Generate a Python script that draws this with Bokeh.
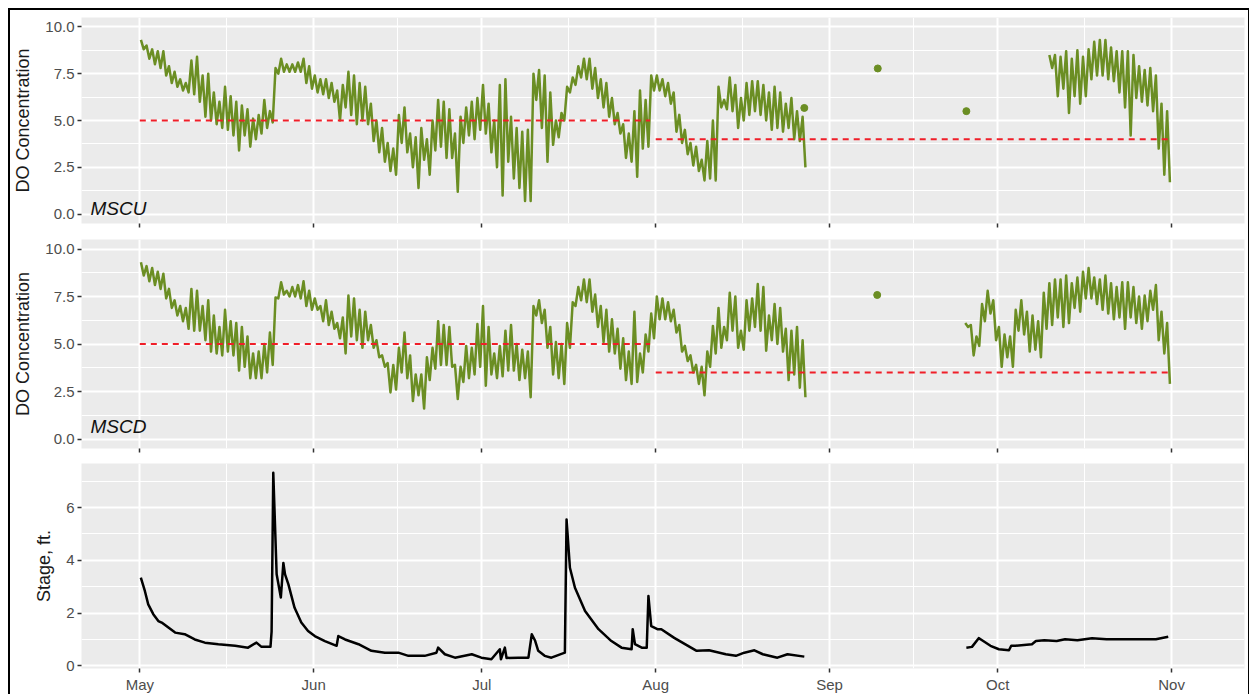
from datetime import datetime, timedelta
from bokeh.plotting import figure
from bokeh.layouts import column
from bokeh.models import (Range1d, FixedTicker, DatetimeTickFormatter, PrintfTickFormatter,
                          Label, CustomJSTickFormatter)
from bokeh.embed import file_html
from bokeh.resources import INLINE

# ---------------- data (days since May 1) ----------------
BASE = datetime(2019, 5, 1)
month_starts = [datetime(2019, m, 1) for m in range(4, 12)]

# MSCU daily high / low, first segment starts day 0
mscu_start1 = 0
mscu_hi1 = [9.3, 9.0, 8.8, 8.7, 8.7, 7.9, 7.6, 7.2, 7.0, 8.2,
            8.4, 7.4, 7.5, 6.5, 6.0, 6.8, 6.3, 6.0, 5.8, 5.6,
            5.1, 5.3, 6.1, 5.5, 7.8, 8.3, 8.0, 8.0, 8.1, 8.3,
            7.9, 7.4, 7.2, 7.2, 7.0, 6.6, 6.9, 7.6, 7.4, 7.0,
            6.8, 5.9, 5.0, 4.6, 3.8, 3.5, 5.3, 5.7, 4.3, 4.1,
            4.6, 4.0, 5.0, 6.1, 6.0, 5.6, 4.3, 5.2, 5.7, 6.0,
            6.2, 6.9, 5.9, 5.0, 6.9, 7.2, 5.2, 4.6, 4.4, 4.5,
            7.5, 7.7, 7.4, 6.5, 5.0, 5.4, 6.8, 7.3, 7.9, 8.3,
            8.3, 7.8, 7.2, 7.0, 6.2, 5.4, 4.8, 4.3, 5.5, 6.6,
            6.1, 7.4, 7.4, 7.2, 7.0, 6.5, 5.3, 4.5, 3.8, 3.6,
            2.9, 3.9, 5.0, 6.8, 6.1, 7.3, 6.9, 6.2, 7.0, 7.1,
            7.1, 6.9, 6.5, 6.8, 6.5, 5.9, 6.2, 5.5, 5.2]
mscu_lo1 = [8.8, 8.3, 8.0, 7.8, 7.4, 7.0, 6.8, 6.6, 6.5, 6.4,
            6.0, 5.2, 5.0, 4.8, 4.6, 4.5, 4.2, 3.4, 4.2, 3.6,
            4.0, 4.3, 4.6, 4.9, 7.5, 7.6, 7.6, 7.6, 7.6, 7.0,
            6.7, 6.5, 6.4, 6.2, 6.0, 5.0, 5.7, 5.3, 4.8, 5.0,
            4.8, 3.9, 3.3, 2.8, 2.3, 2.1, 3.8, 3.3, 2.5, 1.4,
            2.9, 2.1, 3.4, 3.6, 3.0, 3.0, 1.2, 3.8, 4.2, 4.0,
            4.5, 4.3, 3.3, 2.5, 1.0, 2.8, 1.9, 1.4, 0.7, 0.7,
            6.1, 4.6, 2.8, 3.7, 4.1, 5.0, 6.5, 6.9, 7.3, 7.2,
            6.7, 6.2, 5.7, 5.2, 4.8, 4.3, 3.0, 2.8, 2.0, 3.5,
            3.6, 6.6, 6.6, 6.3, 5.9, 4.4, 3.8, 3.2, 2.6, 2.3,
            1.8, 1.9, 1.8, 5.7, 5.6, 5.5, 4.6, 5.0, 5.3, 5.5,
            5.3, 5.0, 4.5, 4.6, 4.4, 4.6, 4.0, 3.9, 2.5]
mscu_start2 = 162
mscu_hi2 = [8.5, 8.5, 8.4, 8.7, 8.3, 8.75, 8.4, 8.8, 9.2, 9.3, 9.3,
            8.9, 8.7, 8.7, 8.7, 8.5, 7.9, 7.7, 7.8, 7.4, 5.9, 5.5]
mscu_lo2 = [7.8, 6.3, 6.7, 5.4, 6.3, 5.9, 6.3, 7.2, 7.4, 7.4, 7.2,
            7.1, 6.5, 5.7, 4.2, 6.2, 6.0, 5.8, 5.5, 3.5, 2.1, 1.7]
mscu_pt_day = [118.5, 131.6, 147.4]
mscu_pt_val = [5.67, 7.78, 5.5]
mscu_thr_from = [0, 92]
mscu_thr_to = [91, 183.5]
mscu_thr_val = [5.0, 4.0]

# MSCD daily high / low
mscd_start1 = 0
mscd_hi1 = [9.3, 9.1, 9.0, 8.8, 8.7, 7.9, 7.3, 7.0, 6.9, 7.9,
            7.8, 7.0, 7.3, 6.5, 5.9, 6.8, 6.2, 6.1, 5.9, 5.4,
            4.5, 4.6, 5.0, 5.6, 7.45, 8.25, 7.8, 8.0, 8.1, 8.3,
            7.8, 7.4, 7.0, 7.3, 6.7, 6.1, 6.4, 7.55, 7.4, 6.8,
            6.7, 6.0, 5.2, 4.4, 4.0, 3.9, 4.8, 5.6, 4.4, 3.4,
            3.4, 4.3, 4.8, 6.2, 6.0, 5.9, 3.9, 3.8, 4.9, 4.8,
            6.05, 7.0, 5.9, 4.5, 4.9, 5.7, 6.0, 5.0, 4.7, 4.6,
            7.0, 7.3, 6.8, 5.9, 5.1, 5.0, 6.1, 7.2, 8.0, 8.4,
            8.4, 7.6, 7.0, 6.8, 6.3, 5.8, 5.3, 4.6, 6.7, 4.5,
            5.5, 6.6, 7.5, 7.4, 7.2, 6.8, 6.0, 4.9, 4.4, 3.9,
            3.8, 4.6, 5.95, 6.9, 5.9, 7.7, 7.5, 5.7, 7.3, 7.4,
            8.16, 8.0, 6.5, 7.1, 6.9, 5.8, 5.7, 5.9, 5.2]
mscd_lo1 = [8.6, 8.3, 8.1, 7.9, 7.4, 6.9, 6.5, 6.2, 5.8, 5.7,
            5.7, 5.2, 4.6, 4.5, 4.4, 4.6, 4.4, 3.6, 3.8, 3.2,
            3.2, 3.2, 3.5, 3.9, 7.4, 7.6, 7.5, 7.5, 7.4, 7.0,
            6.8, 6.8, 6.2, 6.0, 5.8, 5.3, 4.5, 5.4, 5.2, 4.8,
            5.2, 4.8, 4.3, 3.8, 2.45, 2.6, 3.5, 3.2, 2.0, 2.3,
            1.6, 3.1, 3.7, 3.9, 3.9, 3.8, 2.1, 3.0, 3.2, 3.4,
            3.8, 2.8, 3.4, 3.2, 3.3, 3.6, 3.6, 3.1, 3.2, 2.2,
            6.5, 6.1, 4.8, 3.4, 3.2, 2.9, 4.8, 7.0, 7.3, 7.2,
            6.7, 5.9, 5.1, 4.6, 4.5, 3.7, 3.1, 2.9, 3.0, 3.5,
            4.6, 5.3, 6.3, 6.3, 6.2, 5.6, 4.6, 4.1, 3.5, 2.9,
            2.3, 3.8, 4.5, 4.8, 5.2, 5.7, 4.8, 4.7, 5.7, 5.9,
            5.7, 4.65, 5.2, 5.0, 4.6, 3.1, 3.4, 2.7, 2.2]
mscd_start2 = 147
mscd_hi2 = [6.1, 6.0, 5.4, 7.1, 7.8, 7.3, 5.9, 5.5, 5.4, 6.8,
            7.3, 6.7, 6.5, 6.2, 7.7, 8.2, 8.4, 8.4, 8.6, 8.2,
            8.5, 8.8, 9.0, 8.5, 8.4, 8.6, 8.2, 8.0, 8.25, 8.25,
            8.0, 7.5, 7.55, 7.8, 8.1, 6.7, 6.1]
mscd_lo2 = [5.9, 4.4, 4.9, 6.2, 6.6, 5.2, 3.8, 4.3, 3.8, 5.7,
            5.5, 4.6, 4.7, 4.3, 5.8, 6.0, 6.4, 5.9, 6.1, 6.9,
            6.7, 7.4, 7.4, 7.1, 6.8, 6.6, 6.3, 6.4, 5.8, 6.4,
            6.1, 5.8, 6.2, 6.8, 5.2, 4.5, 2.9]
mscd_pt_day = [131.5]
mscd_pt_val = [7.58]
mscd_thr_from = [0, 92]
mscd_thr_to = [91, 183.5]
mscd_thr_val = [5.0, 3.5]

# Stage (ft)
stage_day1 = [0.18, 0.9, 1.5, 2.4, 3.3, 3.9, 5.1, 6.3, 8.0, 9.8, 11.6, 14.0, 17.0, 19.3,
              20.8, 21.7, 23.3, 23.5, 23.8, 24.4, 25.15, 25.6, 25.9, 26.5, 27.6, 28.8,
              30.0, 31.2, 33.0, 35.1, 35.4, 36.6, 39.0, 41.3, 43.7, 46.1, 47.9, 50.8,
              52.9, 53.2, 54.4, 56.2, 59.2, 60.9, 62.7, 64.2, 64.4, 65.1, 65.4, 67.5,
              69.3, 69.9, 70.5, 71.05, 72.2, 73.4, 75.8, 76.1, 76.7, 77.6, 79.4, 81.8,
              84.1, 85.9, 87.7, 87.9, 88.3, 89.5, 90.4, 90.7, 91.2, 92.3, 93.0, 95.3,
              99.3, 101.5, 104.5, 106.3, 107.8, 109.6, 111.1, 113.7, 115.5, 118.5]
stage_val1 = [3.34, 2.84, 2.33, 1.96, 1.70, 1.64, 1.45, 1.26, 1.20, 1.00, 0.88, 0.82, 0.76, 0.69,
              0.88, 0.72, 0.72, 1.30, 7.32, 3.47, 2.59, 3.90, 3.47, 3.09, 2.20, 1.64,
              1.32, 1.13, 0.94, 0.76, 1.13, 1.00, 0.82, 0.57, 0.50, 0.50, 0.38, 0.38,
              0.50, 0.69, 0.44, 0.31, 0.44, 0.31, 0.25, 0.63, 0.25, 0.69, 0.30, 0.31,
              0.31, 1.20, 0.95, 0.57, 0.38, 0.31, 0.50, 5.55, 3.72, 2.96, 2.08, 1.39,
              0.94, 0.69, 0.63, 1.39, 0.82, 0.69, 0.69, 2.65, 1.51, 1.39, 1.39, 1.06,
              0.57, 0.59, 0.44, 0.38, 0.50, 0.59, 0.44, 0.31, 0.44, 0.35]
stage_day2 = [147.4, 148.4, 149.6, 150.2, 151.7, 153.2, 155.0, 155.4, 156.1, 159.1, 159.8,
              161.3, 163.5, 165.0, 167.2, 169.8, 172.4, 175.3, 178.3, 181.2, 183.4]
stage_val2 = [0.69, 0.72, 1.05, 0.97, 0.76, 0.63, 0.59, 0.76, 0.76, 0.82, 0.94,
              0.97, 0.94, 1.01, 0.97, 1.05, 1.01, 1.01, 1.01, 1.01, 1.10]

# ---------------- helpers ----------------
def dt(days):
    return [BASE + timedelta(days=float(d)) for d in days]

def ms(d):
    return (d - datetime(1970, 1, 1)).total_seconds() * 1000.0

def diel(start, highs, lows):
    xs, ys = [], []
    for i, (hi, lo) in enumerate(zip(highs, lows)):
        xs += [start + i + 0.2, start + i + 0.7]
        ys += [hi, lo]
    return dt(xs), ys

GREEN = "#6B8E23"
FONT = "Liberation Sans"
major = [ms(m) for m in month_starts]
minor = [(a + b) / 2 for a, b in zip(major[:-1], major[1:])]
XR = Range1d(start=BASE - timedelta(days=10.4), end=BASE + timedelta(days=197.0))

def base_fig(frame_h, top, bottom, y0, y1, yticks, yminor, yfmt, ylabel, show_x):
    p = figure(frame_width=1163, frame_height=frame_h, x_axis_type="datetime",
               x_range=XR, y_range=Range1d(y0, y1), output_backend="svg",
               toolbar_location=None, min_border_left=70, min_border_right=4,
               min_border_top=top, min_border_bottom=bottom)
    p.background_fill_color = "#EBEBEB"
    p.border_fill_color = "white"
    p.outline_line_color = None
    p.xaxis.ticker = FixedTicker(ticks=major, minor_ticks=minor)
    if show_x:
        p.xaxis.formatter = DatetimeTickFormatter(months="%b", days="%b", hours="%b")
    else:
        p.xaxis.formatter = CustomJSTickFormatter(code="return '';")
    p.yaxis.ticker = FixedTicker(ticks=yticks, minor_ticks=yminor)
    p.yaxis.formatter = PrintfTickFormatter(format=yfmt)
    for ax in (p.xaxis[0], p.yaxis[0]):
        ax.axis_line_color = None
        ax.major_tick_line_color = "#333333"
        ax.major_tick_line_width = 1.5
        ax.major_tick_out = 4
        ax.major_tick_in = 0
        ax.minor_tick_out = 0
        ax.minor_tick_in = 0
        ax.major_label_text_color = "#4D4D4D"
        ax.major_label_text_font = FONT
        ax.major_label_text_font_size = "15px"
        ax.major_label_standoff = 3
    if not show_x:
        p.xaxis.major_label_standoff = 0
    p.yaxis.axis_label = ylabel
    p.yaxis.axis_label_text_font = FONT
    p.yaxis.axis_label_text_font_size = "18px"
    p.yaxis.axis_label_text_font_style = "normal"
    p.yaxis.axis_label_text_color = "#1A1A1A"
    p.yaxis.axis_label_standoff = 9
    for g in (p.xgrid[0], p.ygrid[0]):
        g.grid_line_color = "white"
        g.grid_line_width = 2
        g.minor_grid_line_color = "white"
        g.minor_grid_line_width = 1
    return p

def do_panel(frame_h, top, bottom, segs, pts, thr, name, name_y):
    p = base_fig(frame_h, top, bottom, -0.5, 10.5, [0, 2.5, 5, 7.5, 10],
                 [1.25, 3.75, 6.25, 8.75], "%.1f", "DO Concentration", False)
    for start, hi, lo in segs:
        xs, ys = diel(start, hi, lo)
        p.line(xs, ys, line_color=GREEN, line_width=2.5, line_join="round")
    p.scatter(dt(pts[0]), pts[1], size=7, color=GREEN)
    p.segment(x0=dt(thr[0]), y0=thr[2], x1=dt(thr[1]), y1=thr[2],
              line_color="#F01E28", line_width=2, line_dash="6 5")
    p.add_layout(Label(x=ms(BASE - timedelta(days=8.8)), y=name_y, text=name,
                       text_font=FONT, text_font_size="19px", text_font_style="italic",
                       text_color="#111111", text_baseline="middle", text_align="left"))
    return p

p1 = do_panel(206, 7, 16, [(mscu_start1, mscu_hi1, mscu_lo1), (mscu_start2, mscu_hi2, mscu_lo2)],
              (mscu_pt_day, mscu_pt_val), (mscu_thr_from, mscu_thr_to, mscu_thr_val), "MSCU", 0.3)
p2 = do_panel(209, 0, 15, [(mscd_start1, mscd_hi1, mscd_lo1), (mscd_start2, mscd_hi2, mscd_lo2)],
              (mscd_pt_day, mscd_pt_val), (mscd_thr_from, mscd_thr_to, mscd_thr_val), "MSCD", 0.65)

p3 = base_fig(205, 0, 26, -0.1, 7.67, [0, 2, 4, 6], [1, 3, 5, 7], "%d", "Stage, ft.", True)
p3.line(dt(stage_day1), stage_val1, line_color="black", line_width=2.5, line_join="round")
p3.line(dt(stage_day2), stage_val2, line_color="black", line_width=2.5, line_join="round")

layout = column(p1, p2, p3, margin=(8, 0, 0, 8),
                styles={"border-left": "2px solid black", "border-top": "2px solid black",
                        "border-right": "2px solid black"})

open("out.html", "w").write(file_html(layout, INLINE))
